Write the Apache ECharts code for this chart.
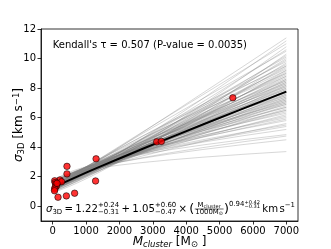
<!DOCTYPE html>
<html><head><meta charset="utf-8">
<script src="https://cdn.jsdelivr.net/npm/echarts@6/dist/echarts.min.js"></script>
<style>html,body{margin:0;padding:0;background:#fff}#c{width:331px;height:249px}</style>
</head><body><div id="c"></div>
<script>
// Observed clusters (mass in Msun, 3D velocity dispersion in km/s)
const clusterMass  = [5397, 3117, 3256, 1300, 1285, 428, 428, 657, 410, 160, 215, 265, 60, 75, 95, 110, 70, 60, 55, 130];
const clusterSigma = [7.34, 4.36, 4.39, 3.21, 1.71, 2.70, 2.19, 0.88, 0.70, 0.61, 1.78, 1.66, 1.72, 1.60, 1.50, 1.36, 1.26, 1.16, 1.05, 1.55];

// Best-fit relation printed on the chart: sigma = A + B*(M/1000)^C
const fitA = 1.22, fitB = 1.05, fitC = 0.94;

// Posterior draw curves: intercept, value reached at 7000 Msun, exponent
const drawIntercept = [1.12,1.05,1.18,0.98,1.09,1.21,0.95,1.14,1.03,1.16,
 1.08,1.22,1.01,1.17,1.06,1.25,
 1.11,1.19,1.04,1.23,1.10,1.28,1.07,
 1.15,1.20,1.02,1.26,1.13,1.24,1.09,1.30,
 1.18,1.06,1.27,1.14,1.22,1.10,1.31,1.16,1.24,1.12,
 1.20,1.28,1.15,1.23,1.19,1.26,1.13,1.30,1.21,1.34,
 1.17,1.29,1.24,1.33,1.20,1.27,1.36,1.22,1.31,1.25,
 1.28,1.35,1.24,1.32,1.38,1.27,1.33,1.40,
 1.30,1.37,1.34,1.41,1.36,
 1.38,1.43,1.35,1.40,
 1.42,1.39,
 1.44,1.40,1.45,
 1.46];
const drawEnd = [11.4,11.2,11.0,10.8,10.6,10.5,10.3,10.2,10.1,10.0,
 9.9,9.8,9.7,9.6,9.5,9.5,
 9.4,9.3,9.2,9.2,9.1,9.0,9.0,
 8.9,8.8,8.8,8.7,8.6,8.6,8.5,8.5,
 8.4,8.4,8.3,8.3,8.2,8.2,8.1,8.1,8.0,8.0,
 7.9,7.9,7.8,7.8,7.7,7.7,7.6,7.6,7.5,7.5,
 7.4,7.4,7.3,7.3,7.2,7.2,7.1,7.1,7.0,7.0,
 6.9,6.9,6.8,6.7,6.7,6.6,6.5,6.5,
 6.4,6.3,6.2,6.1,6.0,
 5.9,5.8,5.6,5.5,
 5.4,5.2,
 4.85,4.75,4.5,
 3.7];
const drawExp = [1.02,1.10,0.98,1.15,1.05,0.96,1.20,1.08,0.99,1.12,
 1.04,0.93,1.14,0.97,1.09,0.90,
 1.01,0.92,1.11,0.95,1.06,0.88,0.99,
 0.94,1.03,0.87,0.98,0.91,1.07,0.85,0.96,
 0.93,1.01,0.86,0.97,0.90,1.04,0.83,0.95,0.88,0.99,
 0.92,0.84,0.97,0.89,0.94,0.81,1.00,0.87,0.91,0.79,
 0.90,0.82,0.95,0.86,0.78,0.93,0.84,0.88,0.76,0.91,
 0.85,0.77,0.89,0.80,0.74,0.87,0.82,0.72,
 0.78,0.70,0.83,0.75,0.68,
 0.72,0.66,0.76,0.63,
 0.64,0.58,
 0.52,0.60,0.55,
 0.42];

// Masses at which the model curves are evaluated
const massGrid = [50,100,150,200,300,400,500,700,1000,1400,2000,2700,3500,4500,5700,7000];

const xTicks = [0,1000,2000,3000,4000,5000,6000,7000];
const yTicks = [0,2,4,6,8,10,12];

const FAM = '"DejaVu Sans", sans-serif';
const chart = echarts.init(document.getElementById('c'), null, {renderer:'canvas'});

const series = [];
for (let i = 0; i < drawEnd.length; i++) {
  const a = drawIntercept[i], e = drawEnd[i], c = drawExp[i];
  series.push({
    type:'line', silent:true, showSymbol:false, animation:false, z:2,
    lineStyle:{color:'#808080', width:0.7, opacity:0.45},
    data: massGrid.map(m => [m, a + (e - a) * Math.pow(m / 7000, c)])
  });
}
series.push({
  type:'line', silent:true, showSymbol:false, animation:false, z:3,
  lineStyle:{color:'#000', width:2},
  data: massGrid.map(m => [m, fitA + fitB * Math.pow(m / 1000, fitC)])
});
series.push({
  type:'scatter', silent:true, animation:false, z:4, symbolSize:6.5,
  itemStyle:{color:'#ff0000', borderColor:'#000', borderWidth:0.7},
  data: clusterMass.map((m, i) => [m, clusterSigma[i]])
});

// ---- formula annotation layout ----
const cv = document.createElement('canvas').getContext('2d');
function mw(t, size, italic){ cv.font = (italic?'italic ':'') + size + 'px ' + FAM; return cv.measureText(t).width; }
const F = 11, S = 7.5, SS = 5.5;
const pieces = []; let px = 0; const bars = [];
function put(t, size, dy, italic){ pieces.push({t, size, dy, italic, x:px}); px += mw(t, size, italic); }
function stack(a, b, size, dya, dyb){ pieces.push({t:a,size,dy:dya,x:px}); pieces.push({t:b,size,dy:dyb,x:px}); px += Math.max(mw(a,size), mw(b,size)); }
function gap(g){ px += g; }
put('σ', F, 0, true); put('3D', S, 3, false); gap(2.5);
put('=', F, 0); gap(2.5); put('1.22', F, 0);
stack('+0.24', '−0.31', S, -4, 3.5); gap(2.5);
put('+', F, 0); gap(2.5); put('1.05', F, 0);
stack('+0.60', '−0.47', S, -4, 3.5); gap(2.5);
put('×', F, 0); gap(2.5);
put('(', F*1.25, 0); gap(0.5);
(function(){
  const nw = mw('M', S) + mw('cluster', SS);
  const dw = mw('1000M', S) + mw('⊙', SS);
  const w = Math.max(nw, dw) + 1;
  const x0 = px;
  let nx = x0 + (w - nw) / 2;
  pieces.push({t:'M', size:S, dy:-4, x:nx}); pieces.push({t:'cluster', size:SS, dy:-3, x:nx + mw('M', S)});
  let dx = x0 + (w - dw) / 2;
  pieces.push({t:'1000M', size:S, dy:4, x:dx}); pieces.push({t:'⊙', size:SS, dy:5, x:dx + mw('1000M', S)});
  bars.push({x1:x0, x2:x0 + w, dy:0});
  px += w;
})();
gap(0.5); put(')', F*1.25, 0);
put('0.94', S, -5);
stack('+0.42', '−0.31', SS, -7, -3); gap(2.5);
put('km', F, 0); gap(1.5); put('s', F, 0); put('−1', S, -4);

const targetLeft = 46, targetWidth = 249, midY = 209;
const k = targetWidth / px;
const graphic = [];
pieces.forEach(p => graphic.push({
  type:'text', silent:true, z:10,
  x: targetLeft + p.x * k, y: midY + p.dy * k,
  style:{text:p.t, fontSize:p.size * k, fontFamily:FAM, fontStyle:p.italic?'italic':'normal', fill:'#000', align:'left', verticalAlign:'middle'}
}));
bars.forEach(b => graphic.push({
  type:'line', silent:true, z:10,
  shape:{x1: targetLeft + b.x1 * k, y1: midY + b.dy * k, x2: targetLeft + b.x2 * k, y2: midY + b.dy * k},
  style:{stroke:'#000', lineWidth:0.6}
}));
graphic.push({
  type:'text', silent:true, z:10, x:52.7, y:45.5,
  style:{text:"Kendall's τ = 0.507 (P-value = 0.0035)", fontSize:10, fontFamily:FAM, fill:'#000', align:'left', verticalAlign:'middle'}
});

chart.setOption({
  animation:false,
  backgroundColor:'#fff',
  grid:{left:41, right:33, top:29, bottom:28, show:true, borderColor:'#000', borderWidth:0.8, backgroundColor:'#fff', containLabel:false, outerBoundsMode:'none'},
  xAxis:{
    type:'value', min:-350, max:7350,
    axisLine:{show:true, onZero:false, lineStyle:{color:'#000', width:0.8}},
    axisTick:{show:true, length:3.5, customValues:xTicks, lineStyle:{color:'#000', width:0.8}},
    axisLabel:{customValues:xTicks, color:'#000', fontSize:10, fontFamily:FAM, margin:5, formatter: v => String(v)},
    splitLine:{show:false},
    name:'{i|M}{is|cluster}{r| [M}{rs|⊙}{r| ]}', nameLocation:'middle', nameGap:14, nameMoveOverlap:false,
    nameTextStyle:{color:'#000', fontFamily:FAM, rich:{
      i:{fontSize:12, fontStyle:'italic', fontFamily:FAM, lineHeight:14, color:'#000'},
      is:{fontSize:8.5, fontStyle:'italic', fontFamily:FAM, lineHeight:8, verticalAlign:'bottom', color:'#000'},
      r:{fontSize:12, fontFamily:FAM, lineHeight:14, color:'#000'},
      rs:{fontSize:8.5, fontFamily:FAM, lineHeight:8, verticalAlign:'bottom', color:'#000'}
    }}
  },
  yAxis:{
    type:'value', min:-1, max:12,
    axisLine:{show:true, onZero:false, lineStyle:{color:'#000', width:0.8}},
    axisTick:{show:true, length:3.5, customValues:yTicks, lineStyle:{color:'#000', width:0.8}},
    axisLabel:{customValues:yTicks, color:'#000', fontSize:10, fontFamily:FAM, margin:5, formatter: v => String(v)},
    splitLine:{show:false},
    name:'{i|σ}{s|3D}{r| [km s}{p|−1}{r|]}', nameLocation:'middle', nameGap:15, nameMoveOverlap:false,
    nameTextStyle:{color:'#000', fontFamily:FAM, rich:{
      i:{fontSize:12, fontStyle:'italic', fontFamily:FAM, lineHeight:14, color:'#000'},
      s:{fontSize:8.5, fontFamily:FAM, lineHeight:8, verticalAlign:'bottom', color:'#000'},
      r:{fontSize:12, fontFamily:FAM, lineHeight:14, color:'#000'},
      p:{fontSize:8.5, fontFamily:FAM, lineHeight:8, verticalAlign:'top', color:'#000'}
    }}
  },
  series:series,
  graphic:graphic
});
</script></body></html>
